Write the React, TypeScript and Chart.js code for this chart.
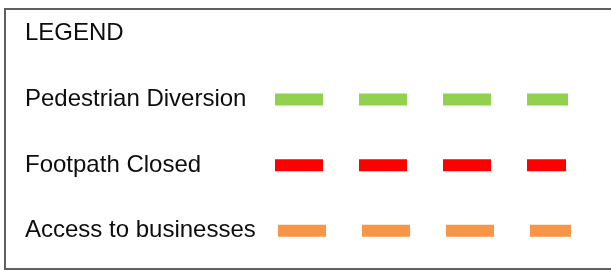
import React, { useEffect, useRef } from "react";
import { Chart, registerables } from "chart.js";

Chart.register(...registerables);

const titleText = "LEGEND";
const categories = ["Pedestrian Diversion", "Footpath Closed", "Access to businesses"];
const seriesColors = ["#92D050", "#FF0000", "#F79646"];
const dashStart = [0, 0, 3];
const dashEnd = [293, 291, 296];
const xMax = 296;

export default function App() {
  const ref = useRef<HTMLCanvasElement | null>(null);

  useEffect(() => {
    if (!ref.current) return;
    const font = "'Liberation Sans', Arial, sans-serif";
    const chart = new Chart(ref.current, {
      type: "line",
      data: {
        labels: categories,
        datasets: categories.map((c, i) => ({
          label: c,
          data: [
            { x: dashStart[i], y: c },
            { x: dashEnd[i], y: c },
          ],
          borderColor: seriesColors[i],
          backgroundColor: seriesColors[i],
          borderWidth: 12,
          borderDash: [48, 36],
          borderCapStyle: "butt" as const,
          pointRadius: 0,
          fill: false,
          clip: false as any,
        })),
      },
      options: {
        animation: false,
        responsive: false,
        maintainAspectRatio: false,
        devicePixelRatio: 1,
        layout: { padding: { left: 25, right: 40, top: 0, bottom: 6.5 } },
        plugins: {
          legend: { display: false },
          tooltip: { enabled: false },
          title: {
            display: true,
            text: titleText,
            align: "start",
            color: "#0d0d0d",
            font: { family: font, size: 24, weight: "normal" },
            padding: { top: 19, bottom: 19 },
          },
        },
        scales: {
          x: { type: "linear", display: false, min: 0, max: xMax },
          y: {
            type: "category",
            labels: categories,
            offset: true,
            grid: { display: false, drawTicks: false },
            border: { display: false },
            ticks: {
              crossAlign: "far",
              color: "#0d0d0d",
              font: { family: font, size: 24 },
            },
            afterFit: (scale: any) => {
              scale.width = 250;
              scale.paddingTop = 0;
              scale.paddingBottom = 0;
            },
          },
        },
      },
    });
    return () => chart.destroy();
  }, []);

  return (
    <div style={{ position: "fixed", left: 0, top: 0, width: 611, height: 270, background: "#fff" }}>
      <div
        style={{
          position: "absolute",
          left: 4,
          top: 8,
          width: 607,
          height: 262,
          boxSizing: "border-box",
          borderTop: "2px solid #5f5f5f",
          borderLeft: "2px solid #5f5f5f",
          borderBottom: "2px solid #5f5f5f",
        }}
      />
      <canvas
        ref={ref}
        width={611}
        height={270}
        style={{ position: "absolute", left: 0, top: 0, width: 611, height: 270 }}
      />
    </div>
  );
}
